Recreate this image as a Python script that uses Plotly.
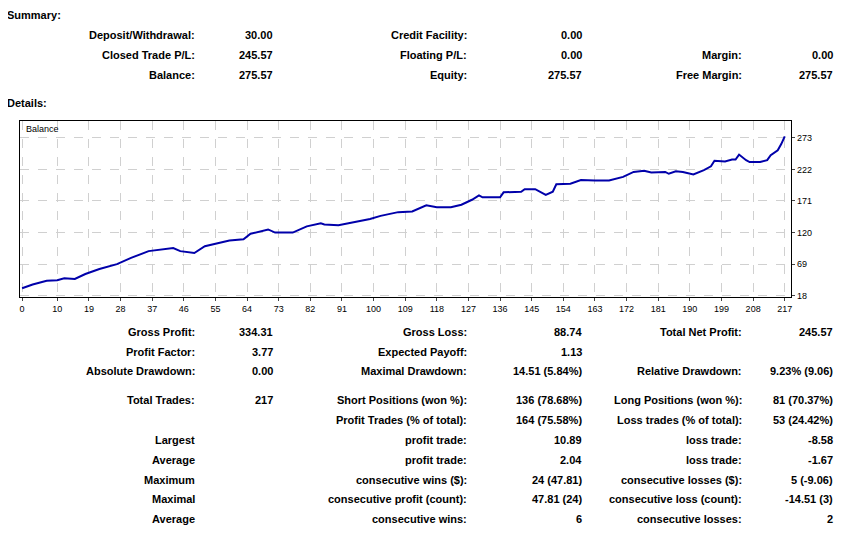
import plotly.graph_objects as go

W, H = 863, 556
# the page adds a body margin of about 8px, so pull everything back by that much
OX, OY = -8, -7

# balance curve (trade index, balance)
trade_idx = [0, 3, 7, 10, 12, 15, 18, 22, 27, 31, 36, 41, 43, 45, 49, 52, 56, 59, 63, 65,
             70, 72, 77, 81, 85, 86, 90, 95, 99, 102, 107, 111, 115, 118, 122, 125, 128, 130,
             131, 136, 137, 142, 143, 146, 149, 151, 152, 156, 159, 163, 167, 171, 174, 177,
             179, 183, 184, 186, 188, 191, 194, 196, 197, 200, 202, 203, 204, 206, 207, 210,
             212, 213, 215, 216, 217]
balance = [30, 36, 42, 43, 46, 45, 53, 61, 69, 79, 90, 93, 95, 90, 87, 98, 103, 107, 109, 118,
           125, 120, 120, 130, 135, 133, 132, 137, 142, 147, 153, 154, 164, 161, 161, 165, 173, 180,
           177, 177, 185, 186, 190, 190, 181, 186, 198, 199, 205, 204, 204, 210, 218, 220,
           217, 218, 215, 219, 218, 214, 221, 227, 236, 235, 238, 238, 246, 237, 234, 234,
           237, 245, 253, 263, 275.57]

x_ticks = [0, 10, 19, 28, 37, 46, 55, 64, 73, 82, 91, 100, 109, 118, 127, 136, 145, 154,
           163, 172, 181, 190, 199, 208, 217]
y_ticks = [18, 69, 120, 171, 222, 273]

summary_rows = [
    ["Deposit/Withdrawal:", "30.00", "Credit Facility:", "0.00", "", ""],
    ["Closed Trade P/L:", "245.57", "Floating P/L:", "0.00", "Margin:", "0.00"],
    ["Balance:", "275.57", "Equity:", "275.57", "Free Margin:", "275.57"],
]
details_rows = [
    ["Gross Profit:", "334.31", "Gross Loss:", "88.74", "Total Net Profit:", "245.57"],
    ["Profit Factor:", "3.77", "Expected Payoff:", "1.13", "", ""],
    ["Absolute Drawdown:", "0.00", "Maximal Drawdown:", "14.51 (5.84%)", "Relative Drawdown:", "9.23% (9.06)"],
    ["Total Trades:", "217", "Short Positions (won %):", "136 (78.68%)", "Long Positions (won %):", "81 (70.37%)"],
    ["", "", "Profit Trades (% of total):", "164 (75.58%)", "Loss trades (% of total):", "53 (24.42%)"],
    ["Largest", "", "profit trade:", "10.89", "loss trade:", "-8.58"],
    ["Average", "", "profit trade:", "2.04", "loss trade:", "-1.67"],
    ["Maximum", "", "consecutive wins ($):", "24 (47.81)", "consecutive losses ($):", "5 (-9.06)"],
    ["Maximal", "", "consecutive profit (count):", "47.81 (24)", "consecutive loss (count):", "-14.51 (3)"],
    ["Average", "", "consecutive wins:", "6", "consecutive losses:", "2"],
]

summary_y = [34, 54, 74]
details_y = [333, 353, 373, 402, 422, 442, 462, 482, 502, 522]
col_x = [197, 275, 470, 585, 745, 836]

fig = go.Figure()
fig.add_trace(go.Scatter(x=trade_idx, y=balance, mode="lines",
                         line=dict(color="#0000AA", width=2), hoverinfo="skip"))

FONT = "Liberation Sans, Arial, sans-serif"


def px_x(px):
    return (px + OX) / W


def px_y(py):
    return 1 - (py + OY) / H


def label(text, px, py, bold=True, anchor="right", size=11):
    if not text:
        return
    fig.add_annotation(x=px_x(px), y=px_y(py), xref="paper", yref="paper",
                       text=f"<b>{text}</b>" if bold else text, showarrow=False,
                       xanchor=anchor, yanchor="middle",
                       font=dict(family=FONT, size=size, color="black"))


label("Summary:", 5, 14, anchor="left")
label("Details:", 5, 103, anchor="left")
for row, py in zip(summary_rows, summary_y):
    for txt, px in zip(row, col_x):
        label(txt, px, py)
for row, py in zip(details_rows, details_y):
    for txt, px in zip(row, col_x):
        label(txt, px, py)
label("Balance", 24, 129, bold=False, anchor="left", size=9)

fig.update_layout(
    width=W, height=H, margin=dict(l=0, r=0, t=0, b=0),
    paper_bgcolor="white", plot_bgcolor="white", showlegend=False,
    xaxis=dict(domain=[px_x(20), px_x(792)], range=[-0.6, 218.8], tickvals=x_ticks,
               showgrid=True, gridcolor="#D0D0D0", griddash="dash", zeroline=False,
               showline=True, linecolor="black", mirror=True,
               ticks="outside", ticklen=3, tickfont=dict(family=FONT, size=9, color="black")),
    yaxis=dict(domain=[px_y(298), px_y(121)], range=[16, 300], tickvals=y_ticks,
               side="right", showgrid=True, gridcolor="#D0D0D0", griddash="dash",
               zeroline=False, showline=True, linecolor="black", mirror=True,
               ticks="outside", ticklen=3, tickfont=dict(family=FONT, size=9, color="black")),
)

fig.write_html("out.html")
